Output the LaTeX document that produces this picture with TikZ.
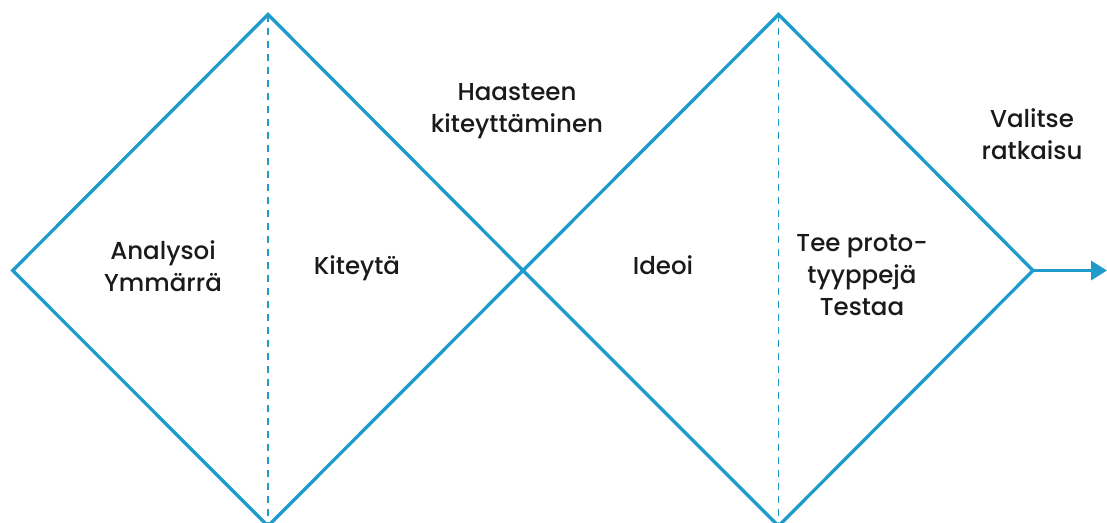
\documentclass[tikz,border=0pt]{standalone}
\usepackage{fontspec}
\setmainfont{Poppins Medium}
\usetikzlibrary{arrows.meta}
\definecolor{lineblue}{HTML}{1E9BCB}
\definecolor{txt}{HTML}{1A1A1A}
\begin{document}
\begin{tikzpicture}[x=1pt,y=-1pt,
  diamondline/.style={draw=lineblue,line width=3.3pt,line join=miter},
  axisline/.style={draw=lineblue,line width=1.9pt,dash pattern=on 7pt off 6pt},
  label/.style={text=txt,align=center,font=\fontsize{24.5}{32}\selectfont,inner sep=0pt},
  flow/.style={draw=lineblue,line width=3.3pt,-{Triangle[length=16pt,width=19pt]}}]
\useasboundingbox (0,0) rectangle (1107,522);
\clip (0,0) rectangle (1107,522);
\coordinate (L1) at (12.7,270.5);
\coordinate (T1) at (268,14.5);
\coordinate (M)  at (523,270.5);
\coordinate (B1) at (268,526);
\coordinate (T2) at (778.5,14.5);
\coordinate (B2) at (778.5,526);
\coordinate (R2) at (1033,270.5);
\coordinate (E)  at (1107,270.5);
\draw[diamondline] (L1) -- (T1) -- (M) -- (B1) -- cycle;
\draw[diamondline] (M) -- (T2) -- (R2) -- (B2) -- cycle;
\draw[axisline] (T1) -- (B1);
\draw[axisline] (T2) -- (B2);
\draw[flow] (R2) -- (E);
\node[label] (analysoi) at (163,266) {Analysoi\\Ymmärrä};
\node[label] (kiteyta) at (357,268) {Kiteytä};
\node[label] (haaste) at (517,111) {Haasteen\\kiteyttäminen};
\node[label] (ideoi) at (663,265) {Ideoi};
\node[label] (proto) at (862,275) {Tee proto-\\tyyppejä\\Testaa};
\node[label] (valitse) at (1032,134) {Valitse\\ratkaisu};
\end{tikzpicture}
\end{document}
